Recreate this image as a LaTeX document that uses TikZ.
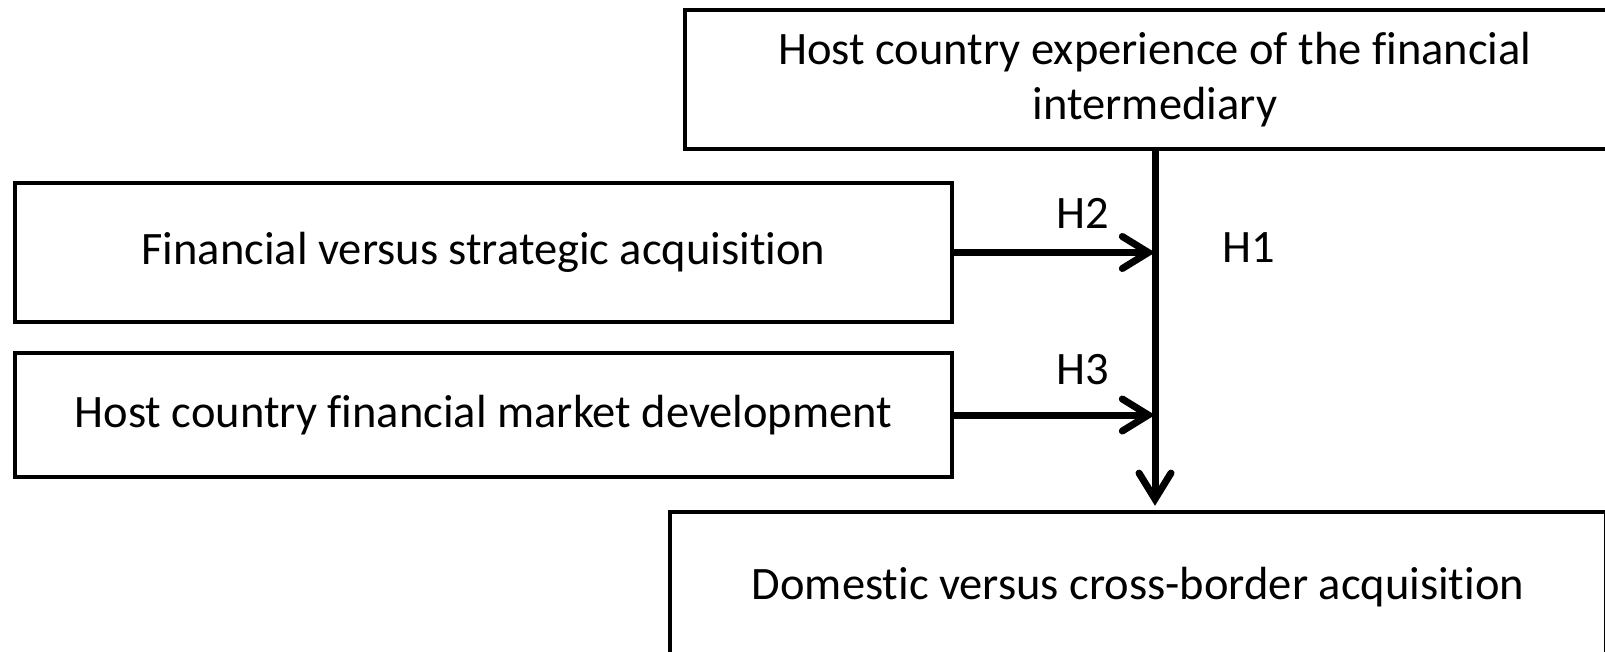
\documentclass[tikz,border=0pt]{standalone}
\usepackage{fontspec}
\setmainfont{Carlito}[Ligatures=NoCommon]
\usetikzlibrary{arrows.meta}

\tikzset{
  factor/.style={draw, line width=4.5pt, align=center, inner sep=0pt,
    font=\fontsize{46.5}{55}\selectfont},
  hyp/.style={font=\fontsize{46.5}{55}\selectfont, inner sep=0pt},
  link/.style={line width=7pt, line cap=round,
    -{Straight Barb[length=26pt,width=32pt,line cap=round]}}
}

\begin{document}
\begin{tikzpicture}[x=1pt,y=-1pt]%
  \useasboundingbox (0,0) rectangle (1605,651);%
  \clip (0,0) rectangle (1605,651);%
  % Boxes
  \node[factor, minimum width=940pt, minimum height=139pt] (exp) at (1155,79.5)
    {Host country experience of the financial\\intermediary};%
  \node[factor, minimum width=937pt, minimum height=139pt] (fin) at (483.5,252.5)
    {Financial versus strategic acquisition};%
  \node[factor, minimum width=937pt, minimum height=124pt] (mkt) at (483.5,415)
    {Host country financial market development};%
  \node[factor, minimum width=936pt, minimum height=150pt] (dom) at (1138,587)
    {Domestic versus cross-border acquisition};%
  % Hypotheses
  \node[hyp] (h1) at (1249,248) {H1};%
  \node[hyp] (h2) at (1083,213) {H2};%
  \node[hyp] (h3) at (1083,370) {H3};%
  % Arrows
  \draw[link, shorten >=4pt] (exp.south) -- (exp.south |- dom.north);%
  \draw[link] (fin.east) -- (fin.east -| exp.south);%
  \draw[link] (mkt.east) -- (mkt.east -| exp.south);%
\end{tikzpicture}
\end{document}
